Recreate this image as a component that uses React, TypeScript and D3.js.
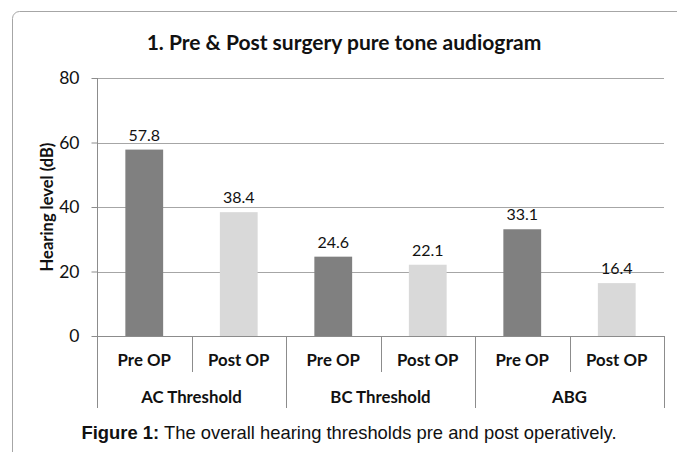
import { useEffect, useRef } from 'react';
import * as d3 from 'd3';

const groups = ['AC Threshold', 'BC Threshold', 'ABG'];
const phases = ['Pre OP', 'Post OP'];
const preValues = [57.8, 24.6, 33.1];
const postValues = [38.4, 22.1, 16.4];
const yTicks = [0, 20, 40, 60, 80];
const barColors = ['#808080', '#d9d9d9'];

const App = () => {
  const svgRef = useRef<SVGSVGElement>(null);

  useEffect(() => {
    const svg = d3.select(svgRef.current);
    svg.selectAll('*').remove();

    const W = 677;
    const H = 452;
    const left = 97;
    const right = 664;
    const top = 78;
    const bottom = 336;
    const calibri = 'Lato, "Open Sans", sans-serif';

    svg.attr('width', W).attr('height', H);

    // outer frame
    svg.append('rect')
      .attr('x', 12.5).attr('y', 11.5)
      .attr('width', 720).attr('height', 500)
      .attr('rx', 7)
      .attr('fill', '#fff')
      .attr('stroke', '#a6a6a6');

    svg.append('text')
      .attr('x', 344).attr('y', 50)
      .attr('text-anchor', 'middle')
      .style('font-family', calibri)
      .style('font-weight', 'bold')
      .style('font-size', '21px')
      .style('fill', '#111')
      .text('1. Pre & Post surgery pure tone audiogram');

    const rows = groups.flatMap((g, i) => [
      { group: g, phase: phases[0], value: preValues[i], k: 0 },
      { group: g, phase: phases[1], value: postValues[i], k: 1 },
    ]);

    const x = d3.scaleBand<number>()
      .domain(rows.map((_, i) => i))
      .range([left, right])
      .paddingInner(0.6)
      .paddingOuter(0.3);

    const y = d3.scaleLinear().domain([0, 80]).range([bottom, top]);

    // gridlines
    svg.append('g')
      .selectAll('line')
      .data(yTicks.filter(t => t > 0))
      .enter().append('line')
      .attr('x1', left).attr('x2', right)
      .attr('y1', d => Math.round(y(d)) + 0.5)
      .attr('y2', d => Math.round(y(d)) + 0.5)
      .attr('stroke', '#a6a6a6');

    // bars
    svg.append('g')
      .selectAll('rect')
      .data(rows)
      .enter().append('rect')
      .attr('x', (_, i) => x(i)!)
      .attr('width', x.bandwidth())
      .attr('y', d => y(d.value))
      .attr('height', d => y(0) - y(d.value))
      .attr('fill', d => barColors[d.k]);

    // value labels
    svg.append('g')
      .selectAll('text')
      .data(rows)
      .enter().append('text')
      .attr('x', (_, i) => x(i)! + x.bandwidth() / 2)
      .attr('y', d => y(d.value) - 9)
      .attr('text-anchor', 'middle')
      .style('font-family', calibri)
      .style('font-size', '16px')
      .style('fill', '#111')
      .text(d => d.value.toFixed(1));

    // y axis
    const yAxis = svg.append('g')
      .attr('transform', `translate(${left + 0.5},0)`)
      .call(d3.axisLeft(y).tickValues(yTicks).tickSize(6).tickPadding(12).tickFormat(d3.format('d')));
    yAxis.select('.domain').attr('stroke', '#8c8c8c').attr('d', `M0,${top}V${bottom}`);
    yAxis.selectAll('.tick line').attr('stroke', '#8c8c8c');
    yAxis.selectAll('.tick text')
      .style('font-family', calibri)
      .style('font-size', '17.5px')
      .style('fill', '#111');

    svg.append('text')
      .attr('transform', 'rotate(-90)')
      .attr('x', -207).attr('y', 53)
      .attr('text-anchor', 'middle')
      .style('font-family', calibri)
      .style('font-weight', 'bold')
      .style('font-size', '16.5px')
      .style('fill', '#111')
      .text('Hearing level (dB)');

    // x axis: two-level categories
    const step = (right - left) / rows.length;
    const xa = svg.append('g').attr('stroke', '#8c8c8c');
    xa.append('line')
      .attr('x1', left).attr('x2', right)
      .attr('y1', bottom + 0.5).attr('y2', bottom + 0.5);
    d3.range(rows.length + 1).forEach(i => {
      const px = Math.round(left + i * step) + 0.5;
      xa.append('line')
        .attr('x1', px).attr('x2', px)
        .attr('y1', bottom)
        .attr('y2', i % 2 === 0 ? 408 : 372);
    });

    svg.append('g')
      .selectAll('text')
      .data(rows)
      .enter().append('text')
      .attr('x', (_, i) => left + (i + 0.5) * step)
      .attr('y', 366)
      .attr('text-anchor', 'middle')
      .style('font-family', calibri)
      .style('font-weight', 'bold')
      .style('font-size', '16.8px')
      .style('fill', '#111')
      .text(d => d.phase);

    svg.append('g')
      .selectAll('text')
      .data(groups)
      .enter().append('text')
      .attr('x', (_, i) => left + (i * 2 + 1) * step)
      .attr('y', 403)
      .attr('text-anchor', 'middle')
      .style('font-family', calibri)
      .style('font-weight', 'bold')
      .style('font-size', '16.8px')
      .style('fill', '#111')
      .text(d => d);

    // caption
    const cap = svg.append('text')
      .attr('x', 349).attr('y', 439)
      .attr('text-anchor', 'middle')
      .style('font-family', '"Liberation Sans", Arial, sans-serif')
      .style('font-size', '18.4px')
      .style('fill', '#111');
    cap.append('tspan').style('font-weight', 'bold').text('Figure 1:');
    cap.append('tspan').text(' The overall hearing thresholds pre and post operatively.');
  }, []);

  return (
    <div style={{ position: 'absolute', left: 0, top: 0 }}>
      <svg ref={svgRef}></svg>
    </div>
  );
};

export default App;
